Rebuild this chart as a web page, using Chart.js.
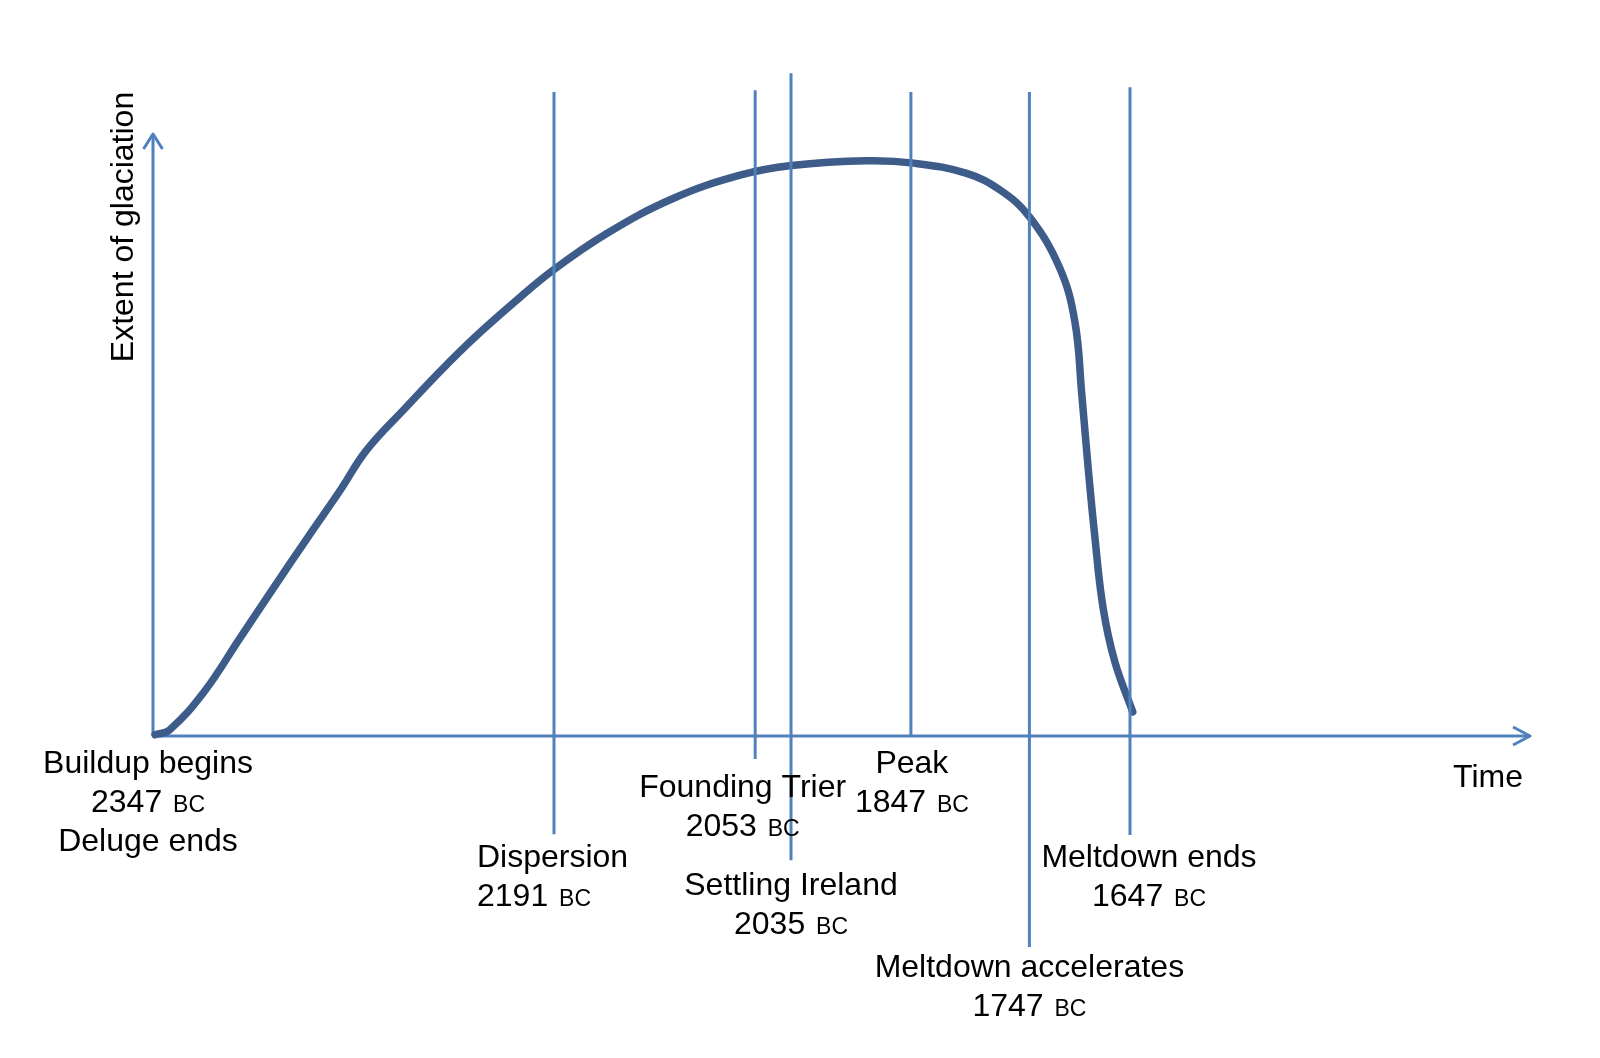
<!DOCTYPE html>
<html>
<head>
<meta charset="utf-8">
<script src="https://cdn.jsdelivr.net/npm/chart.js@4.4.1/dist/chart.umd.min.js"></script>
<style>
  html, body { margin: 0; padding: 0; background: #fff; }
  #wrap { width: 1600px; height: 1058px; }
</style>
</head>
<body>
<div id="wrap"><canvas id="chart" width="1600" height="1058"></canvas></div>
<script>
// glaciation curve: x = position along the time axis (0-100), y = extent (0-100)
const curveX = [0.15, 1.2, 3.7, 6.3, 8.7, 11.1, 13.6, 15.5, 18.4, 20.8, 23.2, 26.1, 29.0, 32.9, 37.7, 42.6,
  46.35, 51.8, 55.2, 59.05, 61.5, 63.6, 65.8, 66.9, 67.4, 67.85, 68.35, 68.95, 69.8, 71.1];
const curveY = [0.2, 1.0, 7.3, 16.2, 24.4, 32.5, 40.8, 47.4, 54.6, 60.4, 65.8, 71.7, 77.2, 83.3, 89.1, 93.0,
  94.6, 95.4, 95.0, 93.3, 90.5, 86.1, 77.6, 68.7, 56.7, 44.8, 33.0, 21.2, 12.3, 4.0];

// events along the time axis
const eventNames = ['Buildup begins', 'Dispersion', 'Founding Trier', 'Settling Ireland', 'Peak',
  'Meltdown accelerates', 'Meltdown ends'];
const eventYears = [2347, 2191, 2053, 2035, 1847, 1747, 1647];
const eventNotes = ['Deluge ends', '', '', '', '', '', ''];
const eventPos = [0, 29.1, 43.7, 46.3, 55.0, 63.6, 70.9];

// layout of marker lines (y units) and labels (px from the axes)
const markerTop = [null, 106.8, 107.1, 109.9, 106.8, 106.8, 107.6];
const markerBottom = [null, -16.3, -3.8, -20.6, 0, -35.0, -16.4];
const labelDx = [-5, -77, -12.5, 0, 1, 0, 19];
const labelDy = [37, 131, 61, 159, 37, 241, 131];
const labelAlign = ['center', 'left', 'center', 'center', 'center', 'center', 'center'];

const blue = '#4f81bd';
const curveBlue = '#3e5c89';
const bigFont = '32px "Liberation Sans", Arial, sans-serif';
const smallFont = '23px "Liberation Sans", Arial, sans-serif';
const lineGap = 39;

let datasets = [];
eventPos.forEach((x, i) => {
  if (markerTop[i] == null) return;
  datasets.push({
    data: [{x: x, y: markerBottom[i]}, {x: x, y: markerTop[i]}],
    borderColor: blue,
    borderWidth: 3,
    pointRadius: 0,
    clip: false,
    order: 1
  });
});
datasets.push({
  data: curveX.map((x, i) => ({x: x, y: curveY[i]})),
  borderColor: curveBlue,
  borderWidth: 7.5,
  pointRadius: 0,
  clip: false,
  tension: 0.4,
  borderCapStyle: 'round',
  borderJoinStyle: 'round',
  order: 2
});

function drawYear(ctx, year, x, y, align) {
  const num = String(year) + ' ';
  ctx.font = bigFont;
  const w1 = ctx.measureText(num).width + 2;
  ctx.font = smallFont;
  const w2 = ctx.measureText('BC').width;
  let left = align === 'left' ? x : x - (w1 + w2) / 2;
  ctx.textAlign = 'left';
  ctx.font = bigFont;
  ctx.fillText(num, left, y);
  ctx.font = smallFont;
  ctx.fillText('BC', left + w1, y);
}

function drawLine(ctx, text, x, y, align) {
  ctx.font = bigFont;
  ctx.textAlign = align;
  ctx.fillText(text, x, y);
}

const axesAndLabels = {
  id: 'axesAndLabels',
  beforeDatasetsDraw(chart) {
    const ctx = chart.ctx, xs = chart.scales.x, ys = chart.scales.y;
    const x0 = xs.getPixelForValue(0), y0 = ys.getPixelForValue(0);
    const xEnd = xs.getPixelForValue(xs.max), yEnd = ys.getPixelForValue(ys.max);
    ctx.save();
    ctx.strokeStyle = blue;
    ctx.lineWidth = 3;
    ctx.lineJoin = 'round';
    ctx.beginPath();
    ctx.moveTo(x0, y0); ctx.lineTo(xEnd - 1, y0);
    ctx.moveTo(x0, y0); ctx.lineTo(x0, yEnd + 1);
    ctx.stroke();
    // arrow heads
    ctx.beginPath();
    ctx.moveTo(xEnd - 18, y0 - 9); ctx.lineTo(xEnd - 1, y0); ctx.lineTo(xEnd - 18, y0 + 9);
    ctx.moveTo(x0 - 9.5, yEnd + 16); ctx.lineTo(x0, yEnd + 1); ctx.lineTo(x0 + 9.5, yEnd + 16);
    ctx.stroke();
    ctx.restore();
  },
  afterDraw(chart) {
    const ctx = chart.ctx, xs = chart.scales.x, ys = chart.scales.y;
    const y0 = ys.getPixelForValue(0);
    ctx.save();
    ctx.fillStyle = '#000';
    ctx.textBaseline = 'alphabetic';
    eventNames.forEach((name, i) => {
      const x = xs.getPixelForValue(eventPos[i]) + labelDx[i];
      const y = y0 + labelDy[i];
      drawLine(ctx, name, x, y, labelAlign[i]);
      drawYear(ctx, eventYears[i], x, y + lineGap, labelAlign[i]);
      if (eventNotes[i]) drawLine(ctx, eventNotes[i], x, y + 2 * lineGap, labelAlign[i]);
    });
    // axis titles
    drawLine(ctx, 'Time', chart.chartArea.right - 43, y0 + 51, 'center');
    ctx.translate(chart.chartArea.left - 20, chart.chartArea.top + 94);
    ctx.rotate(-Math.PI / 2);
    drawLine(ctx, 'Extent of glaciation', 0, 0, 'center');
    ctx.restore();
  }
};

new Chart(document.getElementById('chart'), {
  type: 'line',
  data: { datasets: datasets },
  options: {
    responsive: false,
    animation: false,
    devicePixelRatio: 1,
    events: [],
    layout: { padding: { left: 153, right: 69, top: 133, bottom: 322 } },
    scales: {
      x: { type: 'linear', min: 0, max: 100, display: false },
      y: { type: 'linear', min: 0, max: 100, display: false }
    },
    plugins: { legend: { display: false }, tooltip: { enabled: false } }
  },
  plugins: [axesAndLabels]
});
</script>
</body>
</html>
